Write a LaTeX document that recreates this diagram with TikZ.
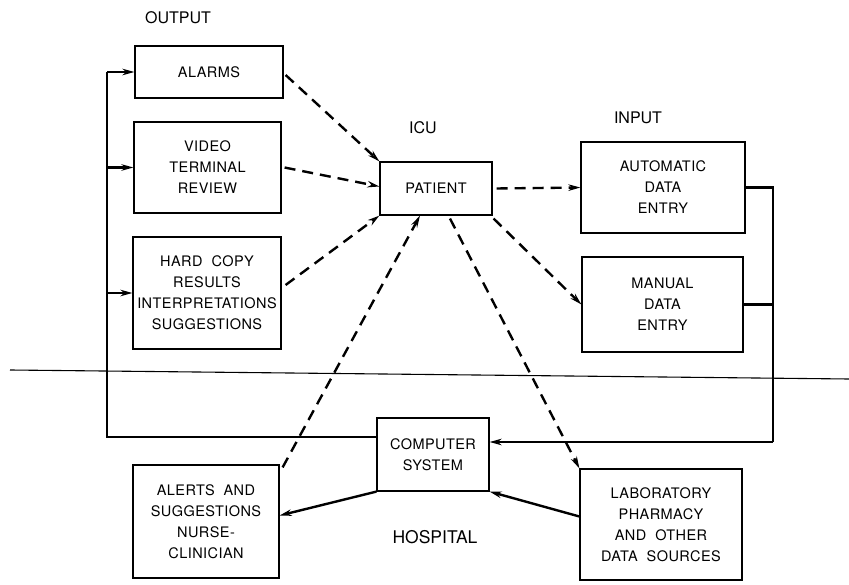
\documentclass[tikz,border=0pt]{standalone}
\usepackage{fontspec}
\setmainfont{TeX Gyre Heros}
\newfontfamily\boxfont[LetterSpace=3]{TeX Gyre Heros}
\usetikzlibrary{arrows.meta}
\begin{document}
\begin{tikzpicture}[x=1pt,y=-1pt,
  box/.style={draw,line width=1.2pt,align=center,font=\boxfont\fontsize{14.5}{21}\selectfont,inner sep=0pt},
  lbl/.style={font=\fontsize{16}{18}\selectfont},
  tip/.style={-{Stealth[length=12pt,width=6.5pt]}},
  solidcon/.style={line width=2.4pt},
  dashcon/.style={line width=2.4pt,dash pattern=on 11pt off 7pt,tip}]
\useasboundingbox (0,0) rectangle (849,585);
% boxes
\node[box,minimum width=148pt,minimum height=52pt] (alarms) at (209,72) {ALARMS};
\node[box,minimum width=147pt,minimum height=91pt] (video) at (207.5,167.5) {VIDEO\\TERMINAL\\REVIEW};
\node[box,minimum width=148pt,minimum height=112pt] (hard) at (207,293) {HARD\ \ COPY\\RESULTS\\INTERPRETATIONS\\SUGGESTIONS};
\node[box,minimum width=112pt,minimum height=53pt] (patient) at (436,188.5) {PATIENT};
\node[box,minimum width=164pt,minimum height=91pt] (auto) at (663,187.5) {AUTOMATIC\\DATA\\ENTRY};
\node[box,minimum width=161pt,minimum height=95pt] (manual) at (662.5,304.5) {MANUAL\\DATA\\ENTRY};
\node[box,minimum width=112pt,minimum height=73pt] (comp) at (433,454.5) {COMPUTER\\SYSTEM};
\node[box,minimum width=146pt,minimum height=113pt] (alerts) at (206,521.5) {ALERTS\ \ AND\\SUGGESTIONS\\NURSE-\\CLINICIAN};
\node[box,minimum width=162pt,minimum height=111pt] (lab) at (661,524.5) {LABORATORY\\PHARMACY\\AND\ \ OTHER\\DATA\ \ SOURCES};
% labels
\node[lbl] (out) at (178,18) {OUTPUT};
\node[lbl] (icu) at (423,128) {ICU};
\node[lbl] (inp) at (638,118) {INPUT};
\node[font=\fontsize{17.5}{20}\selectfont] (hosp) at (435,537) {HOSPITAL};
% separator line
\coordinate (sepL) at (10,370);
\coordinate (sepR) at (849,379);
\draw[line width=1.1pt] (sepL) -- (sepR);
% left bus
\coordinate (lbot) at (107,437);
\coordinate (ltop) at (107,72);
\draw[solidcon,line join=miter] ([yshift=17.5pt]comp.west) -- (lbot) -- (ltop);
\draw[solidcon,tip] (ltop) -- (alarms.west);
\draw[solidcon,tip] (107,167.5) -- (video.west);
\draw[solidcon,tip] (107,293) -- (hard.west);
% right bus
\coordinate (rtop) at (773,187.5);
\coordinate (rmid) at (773,304.5);
\coordinate (rbot) at (773,442);
\draw[solidcon] (auto.east) -- (rtop) -- (rbot);
\draw[solidcon] (manual.east) -- (rmid);
\draw[solidcon,tip] (rbot) -- ([yshift=12.5pt]comp.east);
% computer links
\draw[solidcon,tip] (comp.south west) -- ([yshift=6pt]alerts.east);
\draw[solidcon,tip] ([yshift=8pt]lab.west) -- (comp.south east);
% dashed ICU links
\draw[dashcon] ([shift={(2pt,-3pt)}]alarms.east) -- (patient.north west);
\draw[dashcon] ([xshift=3pt]video.east) -- ([yshift=2pt]patient.west);
\draw[dashcon] ([shift={(4pt,8pt)}]hard.east) -- (patient.south west);
\draw[dashcon] ([xshift=4pt]patient.east) -- (auto.west);
\draw[dashcon] ([shift={(1pt,-3pt)}]patient.south east) -- (manual.west);
\draw[dashcon] ([shift={(14pt,-3pt)}]patient.south) -- (lab.north west);
\draw[dashcon] ([shift={(3pt,-3pt)}]alerts.north east) -- ([xshift=-16pt]patient.south);
\end{tikzpicture}
\end{document}
